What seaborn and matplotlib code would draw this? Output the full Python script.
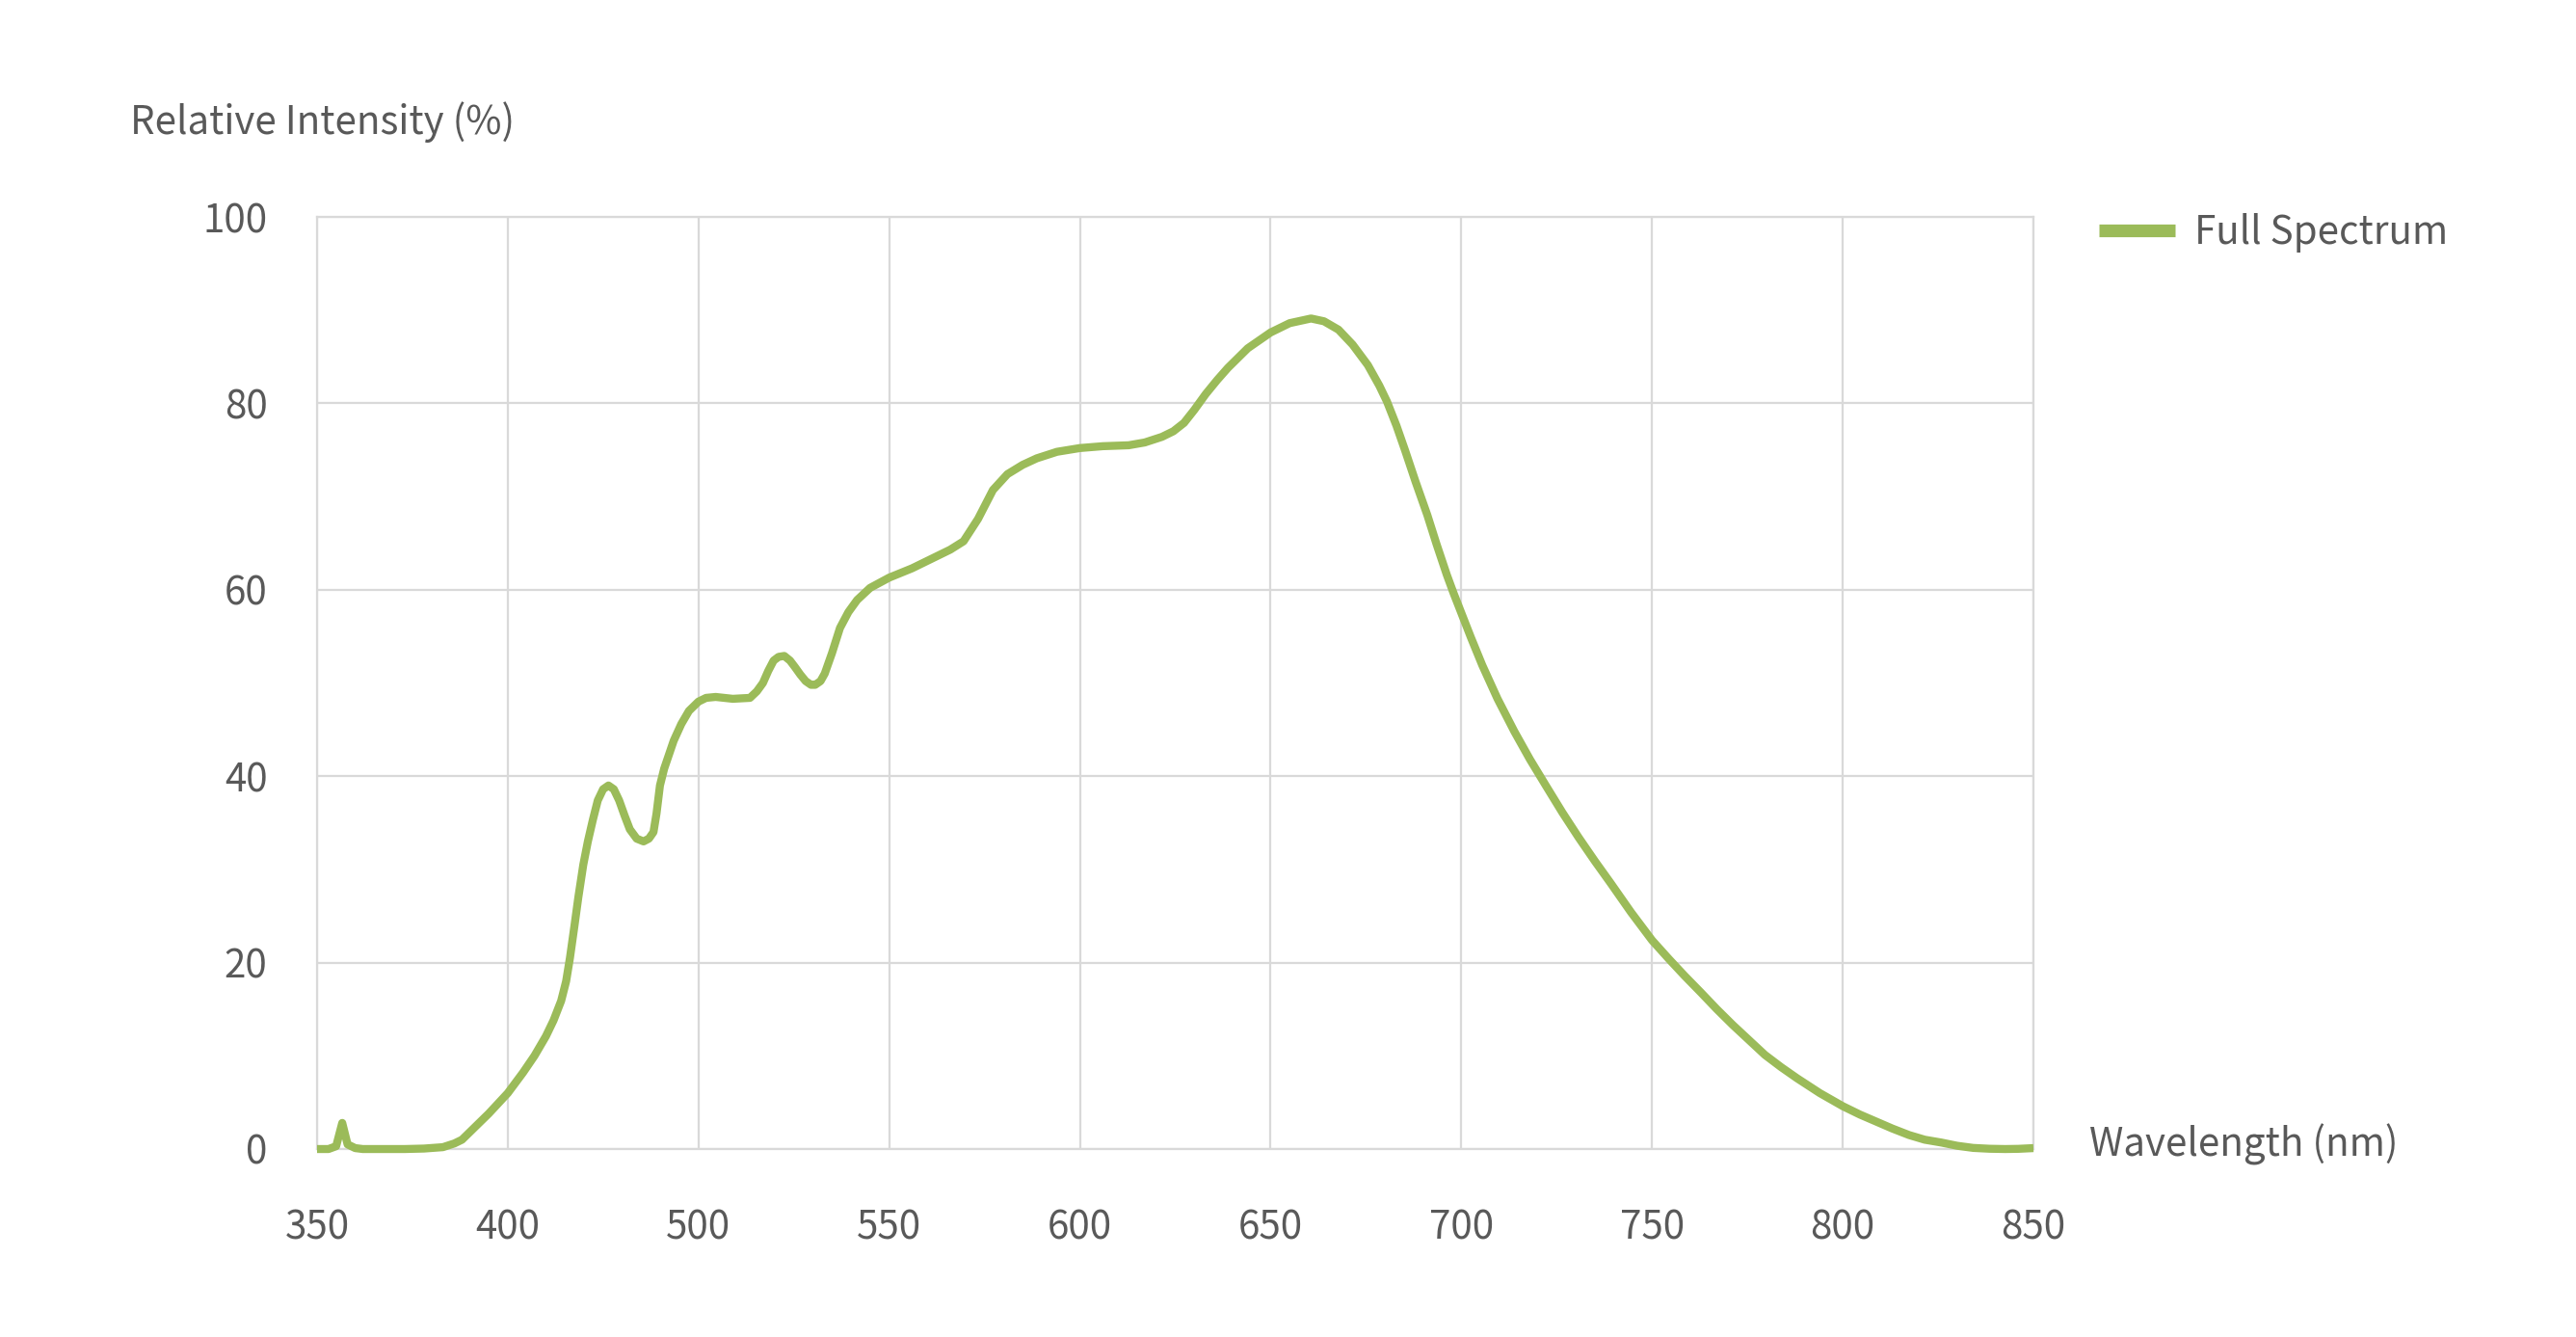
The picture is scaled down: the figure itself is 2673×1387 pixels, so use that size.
import numpy as np
import pandas as pd
import matplotlib
matplotlib.use("Agg")
import matplotlib.pyplot as plt
import seaborn as sns

# ---------------- data ----------------
wavelength = [350, 353, 355, 356.6, 358, 360, 362, 368, 373, 378, 383, 386, 388, 391, 395,
              400, 404, 407, 410, 412, 414, 415.3, 416.3, 417.5, 418.5, 419.8, 421, 422.3,
              423.6, 425, 426.4, 427.8, 429.2, 430.6, 432, 433.8, 435.6, 437, 438.2, 439,
              439.9, 441, 442, 443.5, 445.5, 447.5, 450, 452, 454.5, 459, 463.5, 465.3,
              466.9, 468.3, 469.7, 471, 472.5, 474, 475.3, 476.7, 478.1, 479.5, 480.6, 482,
              483.1, 485, 487.1, 489.3, 491.6, 495, 500, 506, 512, 516, 519.5, 523.3, 527.2,
              531, 535, 538.7, 544, 550, 556, 562.8, 567, 571.5, 574.5, 577.3, 580, 583, 586,
              588.8, 594, 600, 605, 610.6, 614, 617.8, 621.5, 625.5, 628.5, 630.5, 633,
              635.3, 638, 641.1, 643.5, 646.2, 648, 650, 652.5, 655.5, 659.5, 663.9, 668,
              672.3, 676.5, 680.8, 685, 689.2, 694.5, 700, 704.4, 708.5, 712.8, 717, 721.2,
              725.4, 729.6, 733.8, 738, 744, 750, 754.5, 759, 763, 767.4, 771.5, 775.8,
              780, 784.2, 788.5, 792.6, 796, 800]
intensity = [0, 0, 0.3, 2.8, 0.5, 0.1, 0, 0, 0, 0.05, 0.2, 0.6, 1.0, 2.2, 3.8,
             6.0, 8.2, 10.0, 12.1, 13.8, 15.9, 18.0, 20.5, 24.0, 27.0, 30.5, 33.0, 35.3,
             37.4, 38.6, 39.0, 38.6, 37.4, 35.8, 34.3, 33.3, 33.0, 33.3, 34.0, 36.0,
             39.0, 40.8, 42.0, 43.8, 45.6, 47.0, 48.0, 48.4, 48.5, 48.3, 48.4, 49.1,
             50.0, 51.3, 52.4, 52.8, 52.9, 52.4, 51.7, 50.9, 50.2, 49.8, 49.8, 50.2,
             51.0, 53.2, 55.9, 57.6, 58.9, 60.2, 61.3, 62.3, 63.5, 64.3, 65.2, 67.6, 70.7,
             72.4, 73.4, 74.1, 74.8, 75.2, 75.4, 75.5, 75.8, 76.4, 77.0, 77.9, 79.3, 81.0, 82.5,
             83.8, 85.9, 87.6, 88.6, 89.1, 88.8, 87.9, 86.3, 84.1, 81.9, 80.2, 77.6,
             74.9, 71.6, 68.0, 64.9, 61.6, 59.6, 57.5, 54.9, 51.9, 48.3, 44.8, 41.8,
             38.9, 36.1, 33.4, 30.9, 28.5, 25.4, 22.4, 20.4, 18.6, 16.8, 15.0, 13.3,
             11.7, 10.1, 8.8, 7.6, 6.0, 4.6, 3.7, 2.9, 2.2, 1.5, 1.0, 0.7,
             0.35, 0.12, 0.03, 0, 0.02, 0.1]
x_tick_labels = ["350", "400", "500", "550", "600", "650", "700", "750", "800", "850"]
y_ticks = [0, 20, 40, 60, 80, 100]
series_name = "Full Spectrum"
x_title = "Wavelength (nm)"
y_title = "Relative Intensity (%)"

df = pd.DataFrame({"wl": wavelength, "val": intensity})

# ---------------- style ----------------
sns.set_theme(style="white")
plt.rcParams["font.family"] = ["Noto Sans CJK SC", "DejaVu Sans"]
TEXT = "#595959"
GRID = "#D9D9D9"
GREEN = "#9BBB59"
FS = 29

W, H = 2673, 1387
fig = plt.figure(figsize=(W / 100, H / 100), dpi=100)
ax = fig.add_axes([329 / W, 1 - 1192 / H, (2110 - 329) / W, (1192 - 225) / H])

sns.lineplot(data=df, x="wl", y="val", ax=ax, color=GREEN, linewidth=6,
             sort=False, label=series_name, clip_on=False, zorder=5)
for ln in ax.get_lines():
    ln.set_solid_joinstyle("round")
    ln.set_solid_capstyle("butt")

ax.set_xlim(350, 800)
ax.set_ylim(0, 100)
xt = np.linspace(350, 800, len(x_tick_labels))
ax.set_xticks(xt)
ax.set_xticklabels(x_tick_labels)
ax.set_yticks(y_ticks)
ax.set_yticklabels([str(v) for v in y_ticks])
ax.tick_params(axis="both", length=0, labelsize=FS, labelcolor=TEXT)
ax.tick_params(axis="y", pad=37)
ax.tick_params(axis="x", pad=44)
ax.grid(True, color=GRID, linewidth=1.6)
ax.set_axisbelow(True)
for s in ax.spines.values():
    s.set_visible(True)
    s.set_color(GRID)
    s.set_linewidth(1.6)
ax.set_xlabel("")
ax.set_ylabel("")

leg = ax.legend(loc="center left", bbox_to_anchor=(2178 / W, 1 - 242 / H),
                bbox_transform=fig.transFigure, frameon=False, fontsize=FS,
                handlelength=1.95, handletextpad=0.5, borderpad=0, borderaxespad=0)
for t in leg.get_texts():
    t.set_color(TEXT)
for ln in leg.get_lines():
    ln.set_linewidth(9.5)
    ln.set_solid_capstyle("butt")

fig.text(135 / W, 1 - 127 / H, y_title, ha="left", va="center", fontsize=FS, color=TEXT)
fig.text(2168 / W, 1 - 1187 / H, x_title, ha="left", va="center", fontsize=FS, color=TEXT)

fig.savefig("out.png", dpi=100, facecolor="white")
